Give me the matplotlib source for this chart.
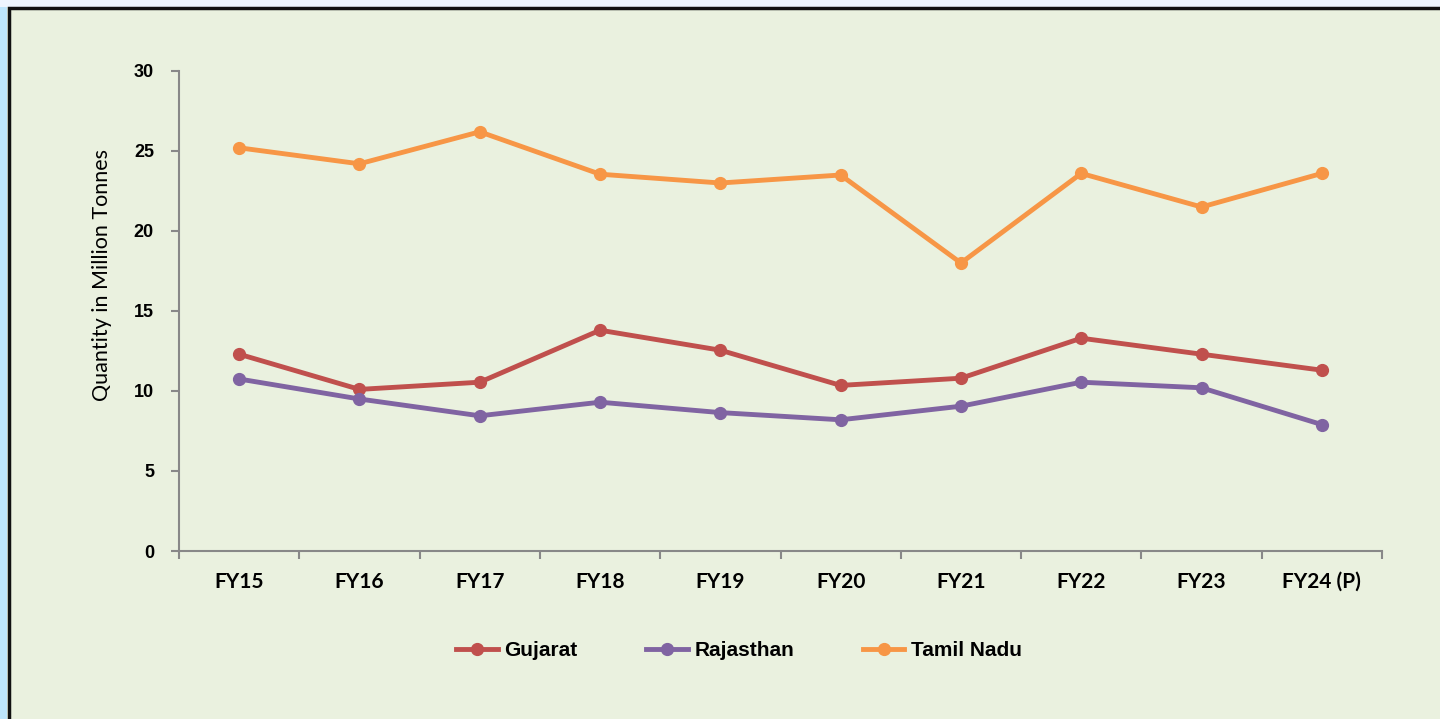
import matplotlib
matplotlib.use("Agg")
import matplotlib.pyplot as plt
from matplotlib.patches import Rectangle
from matplotlib.lines import Line2D

categories = ["FY15", "FY16", "FY17", "FY18", "FY19", "FY20", "FY21", "FY22", "FY23", "FY24 (P)"]
gujarat = [12.3, 10.1, 10.55, 13.8, 12.55, 10.35, 10.8, 13.3, 12.3, 11.3]
rajasthan = [10.75, 9.5, 8.45, 9.3, 8.65, 8.2, 9.05, 10.55, 10.2, 7.9]
tamil_nadu = [25.2, 24.2, 26.2, 23.55, 23.0, 23.5, 18.0, 23.6, 21.5, 23.6]
series_names = ["Gujarat", "Rajasthan", "Tamil Nadu"]
colors = ["#C0504D", "#8064A2", "#F79646"]
yticks = [0, 5, 10, 15, 20, 25, 30]

bg = "#EAF1DF"
fig = plt.figure(figsize=(14.4, 7.19), dpi=100)
fig.patch.set_facecolor(bg)

# outer strips and border
fig.patches.append(Rectangle((0, 0), 7/1440, 1, transform=fig.transFigure, facecolor="#BDE5FB", edgecolor="none", zorder=0))
fig.patches.append(Rectangle((0, 1-7/719), 1, 7/719, transform=fig.transFigure, facecolor="#EEF5FE", edgecolor="none", zorder=0))
fig.patches.append(Rectangle((8.5/1440, -0.1), 1.2, 1-8.5/719+0.1, transform=fig.transFigure, facecolor="none", edgecolor="#111111", linewidth=2.5, zorder=1))

ax = fig.add_axes([179/1440, 1-551/719, (1382-179)/1440, (551-71)/719])
ax.set_facecolor(bg)
x = list(range(len(categories)))
for vals, name, c in zip([gujarat, rajasthan, tamil_nadu], series_names, colors):
    ax.plot(x, vals, color=c, linewidth=3.5, marker="o", markersize=8.5, label=name, solid_capstyle="round")

ax.set_xlim(-0.5, len(categories)-0.5)
ax.set_ylim(0, 30)
ax.set_yticks(yticks)
ax.set_yticklabels([str(v) for v in yticks], fontsize=13, fontweight="bold", family=["Liberation Sans", "DejaVu Sans"])
ax.set_xticks(x)
ax.set_xticklabels(categories, fontsize=15, fontweight="bold", family=["Lato", "DejaVu Sans"])
ax.set_xticks([i - 0.5 for i in range(len(categories)+1)], minor=True)
ax.tick_params(axis="x", which="major", length=0, pad=15)
ax.tick_params(axis="x", which="minor", length=6, width=1.5, color="#888888", direction="out")
ax.tick_params(axis="y", length=6, width=1.5, color="#888888", pad=12)
for s in ["top", "right"]:
    ax.spines[s].set_visible(False)
for s in ["left", "bottom"]:
    ax.spines[s].set_color("#888888")
    ax.spines[s].set_linewidth(1.5)
ax.set_ylabel("Quantity in Million Tonnes", fontsize=15.5, family=["Lato", "DejaVu Sans"])
ax.yaxis.set_label_coords(-67/1203, 0.575)

handles = [Line2D([0], [0], color=c, linewidth=3.5, marker="o", markersize=8.5) for c in colors]
fig.legend(handles, series_names, loc="center", bbox_to_anchor=(739/1440, 1-651/719), ncol=3,
           frameon=False, handlelength=2.0, handletextpad=0.3, columnspacing=3.3,
           prop={"family": ["Liberation Sans", "DejaVu Sans"], "weight": "bold", "size": 15})

fig.savefig("out.png", dpi=100, facecolor=bg)
